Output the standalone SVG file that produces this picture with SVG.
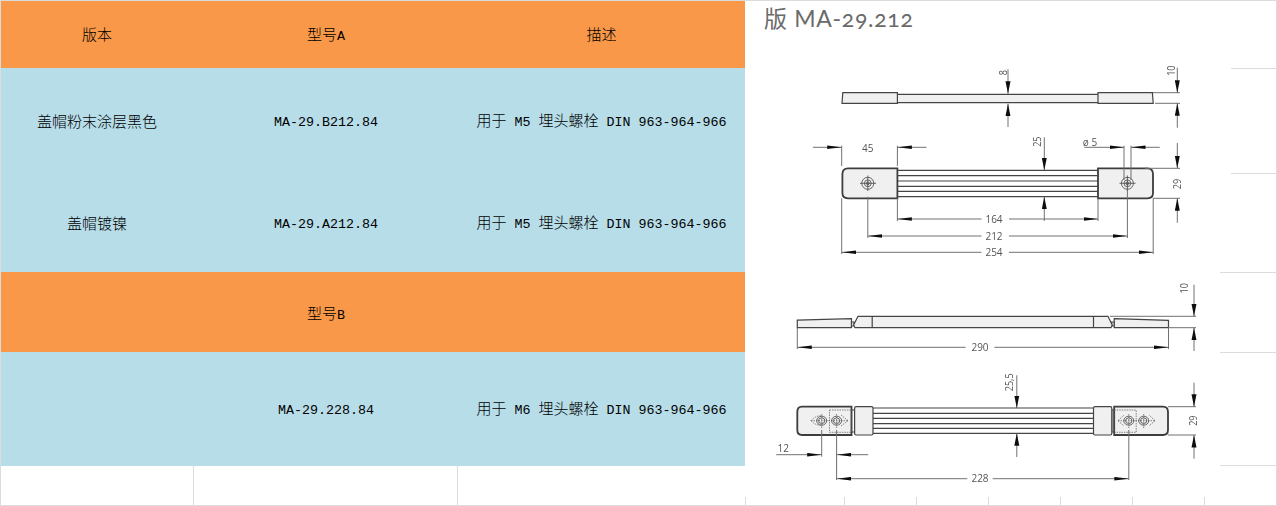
<svg xmlns="http://www.w3.org/2000/svg" width="1277" height="506" viewBox="0 0 1277 506">
<style>
.o{fill:#F99848}.b{fill:#B7DDE8}
.t{font-family:"Liberation Mono","Noto Sans CJK SC",monospace;font-size:13.33px;fill:#000;text-anchor:middle}
.c{font-family:"Noto Sans CJK SC",sans-serif;font-size:15px;font-weight:300}
.g{fill:none;stroke:#dcdcdc;stroke-width:1}
.title{font-family:Lato,"Noto Sans CJK SC",sans-serif;font-size:23px;fill:#6a6a6a;font-feature-settings:"onum";letter-spacing:.7px}
.d{fill:none;stroke:#707070;stroke-width:1}
.k{fill:#f0f0f0;stroke:#444;stroke-width:1.2}
.k2{fill:#f0f0f0;stroke:#3c3c3c;stroke-width:1.8}
.r{fill:none;stroke:#444;stroke-width:1.2}
.h{fill:none;stroke:#444;stroke-width:.8}
.hd{fill:none;stroke:#555;stroke-width:.7;stroke-dasharray:1.5 1}
.n{font-family:"Open Sans",sans-serif;font-size:10px;fill:#555;text-anchor:middle}
.arr{marker-end:url(#ah)}.arv{marker-end:url(#av)}
</style>
<defs>
<marker id="ah" markerUnits="userSpaceOnUse" viewBox="0 0 14.5 4.4" refX="14.5" refY="2.2" markerWidth="14.5" markerHeight="4.4" orient="auto"><path d="M0 .4L14.5 2.2L0 4z" fill="#111"/></marker>
<marker id="av" markerUnits="userSpaceOnUse" viewBox="0 0 12.5 5.6" refX="12.5" refY="2.8" markerWidth="12.5" markerHeight="5.6" orient="auto"><path d="M0 .3L12.5 2.8L0 5.3z" fill="#111"/></marker>
<filter id="soft" x="0" y="0" width="1" height="1"><feGaussianBlur stdDeviation=".35"/></filter>
</defs>
<rect width="1277" height="506" fill="#fff"/>
<g id="grid">
<path class="g" d="M0 .5H1277M.5 0V506M1276.5 0V506M0 505.5H1277M193.5 466V505M457.5 466V505"/>
<path class="g" d="M1231 68.5H1277M1231 173.5H1277M1220 272.5H1277M1220 352.5H1277M1220 465.5H1277"/>
<path class="g" d="M745.5 497V505M844.5 497V505M916.5 497V505M988.5 497V505M1060.5 497V505M1132.5 497V505M1204.5 497V505"/>
</g>
<g id="table">
<rect class="o" x="1" y="1" width="744" height="67"/>
<rect class="b" x="1" y="68" width="744" height="204"/>
<rect class="o" x="1" y="272" width="744" height="80"/>
<rect class="b" x="1" y="352" width="744" height="114"/>
<text class="t" x="97" y="40"><tspan class="c">版本</tspan></text>
<text class="t" x="326" y="40"><tspan class="c">型号</tspan>A</text>
<text class="t" x="601.5" y="40"><tspan class="c">描述</tspan></text>
<text class="t" x="97" y="127"><tspan class="c">盖帽粉末涂层黑色</tspan></text>
<text class="t" x="326" y="126">MA-29.B212.84</text>
<text class="t" x="601.5" y="126"><tspan class="c">用于</tspan> M5 <tspan class="c">埋头螺栓</tspan> DIN 963-964-966</text>
<text class="t" x="97" y="229"><tspan class="c">盖帽镀镍</tspan></text>
<text class="t" x="326" y="228">MA-29.A212.84</text>
<text class="t" x="601.5" y="228"><tspan class="c">用于</tspan> M5 <tspan class="c">埋头螺栓</tspan> DIN 963-964-966</text>
<text class="t" x="326" y="319"><tspan class="c">型号</tspan>B</text>
<text class="t" x="326" y="414">MA-29.228.84</text>
<text class="t" x="601.5" y="414"><tspan class="c">用于</tspan> M6 <tspan class="c">埋头螺栓</tspan> DIN 963-964-966</text>
</g>
<text class="title" x="764" y="27">版 MA-29.212</text>
<g id="drawing-212" filter="url(#soft)">
<path class="k" d="M842.8 92.7H897.4V103.3H842zM897.4 94.3H1098V102.7H897.4zM1098 92.7H1152.4L1153.2 103.3H1098z"/>
<path class="k2" d="M848 168.3H897.4V198.3H848Q842.4 198.3 842.4 193V174Q842.4 168.3 848 168.3z"/>
<path class="k2" d="M1098 168.3H1147.5Q1153 168.3 1153 174V193Q1153 198.3 1147.5 198.3H1098z"/>
<path class="r" d="M897.4 170.3H1098M897.4 175.7H1098M897.4 181H1098M897.4 186.3H1098M897.4 191.3H1098M897.4 196.7H1098"/>
<g class="h"><circle cx="867.8" cy="183.3" r="6"/><circle cx="867.8" cy="183.3" r="3.4"/><circle cx="867.8" cy="183.3" r="1.4"/><circle cx="1127.4" cy="183.3" r="6"/><circle cx="1127.4" cy="183.3" r="3.4"/><circle cx="1127.4" cy="183.3" r="1.4"/><path d="M860 183.3H876M867.8 175.5V191M1119.5 183.3H1135.5M1127.4 175.5V191"/></g>
<path class="d" d="M841.7 145.7V166M897.4 145.7V166M841.7 198.3V254M897.4 198.3V221M1098 198.3V221M1153.2 198.3V254M867.8 196.7V238M1127.4 190V238M1124 145.7V180M1131 145.7V180M1153 92.7H1180M1155 103.3H1180M1145 168.3H1180M1153 198.3H1180"/>
<path class="d arv" d="M1008 69.3V93.7"/><path class="d arv" d="M1008 127V103.7"/>
<path class="d arv" d="M1177.3 67.7V92.7"/><path class="d arv" d="M1177.3 127.7V103.3"/>
<path class="d arv" d="M1177.3 143V168.3"/><path class="d arv" d="M1177.3 222.7V198.3"/>
<path class="d arv" d="M1044.3 137.3V170.3"/><path class="d arv" d="M1044.3 221V196.7"/>
<path class="d arr" d="M812.9 147.3H841.7"/><path class="d arr" d="M926.5 147.3H897.4"/>
<path class="d arr" d="M1084.3 147.3H1124"/><path class="d arr" d="M1159.7 147.3H1131"/>
<path class="d arr" d="M981.5 219H897.4"/><path class="d arr" d="M1009 219H1098"/>
<path class="d arr" d="M981.5 236H867.8"/><path class="d arr" d="M1009 236H1127.4"/>
<path class="d arr" d="M981.5 252.3H841.7"/><path class="d arr" d="M1009 252.3H1153.2"/>
<text class="n" x="867.8" y="151.5">45</text>
<text class="n" x="1090" y="146.3">ø 5</text>
<text class="n" x="994" y="222.6">164</text>
<text class="n" x="994" y="239.6">212</text>
<text class="n" x="994" y="255.9">254</text>
<text class="n" transform="translate(1006.5 72.7) rotate(-90) scale(.9 1)">8</text>
<text class="n" transform="translate(1174.8 70.7) rotate(-90) scale(.9 1)">10</text>
<text class="n" transform="translate(1041 141.7) rotate(-90) scale(.9 1)">25</text>
<text class="n" transform="translate(1180.8 184) rotate(-90) scale(.9 1)">29</text>
</g>
<g id="drawing-228" filter="url(#soft)">
<path class="k" d="M797.3 320.2L851.5 318.7V327.7H797.3zM1114.2 318.7L1168.5 320.3V327.7H1114.2z"/>
<path class="k" d="M851.5 322H854V326H851.5zM1111.7 322H1114.2V326H1111.7z"/>
<path class="k" d="M853.6 325L858 316.3H1108L1112.2 325L1111 327.7H855z"/>
<path class="r" d="M872.2 316.3V327.7M1093.5 316.3V327.7"/>
<path class="k2" d="M802 406.7H851.5V435H802Q797.3 435 797.3 430V412Q797.3 406.7 802 406.7z"/>
<path class="k2" d="M1114.2 406.7H1163Q1168 406.7 1168 412V430Q1168 435 1163 435H1114.2z"/>
<path class="r" d="M851.5 410H854.6V432H851.5zM1111.8 410H1114.2V432H1111.8z"/>
<rect class="k" x="854.6" y="406.7" width="18.4" height="28.3" rx="1.5"/>
<rect class="k" x="1093.5" y="406.7" width="18.3" height="28.3" rx="1.5"/>
<path class="r" d="M873 408H1093.5M873 413.3H1093.5M873 418.4H1093.5M873 423.7H1093.5M873 428.3H1093.5M873 433.3H1093.5"/>
<path class="hd" d="M829.5 410H851.5V432.3H829.5zM1114.2 410H1136.2V432.3H1114.2z"/>
<g class="h"><ellipse cx="821.7" cy="420.7" rx="5" ry="4.5"/><ellipse cx="821.7" cy="420.7" rx="3.2" ry="2.8"/><ellipse cx="836.6" cy="420.7" rx="5" ry="4.5"/><ellipse cx="836.6" cy="420.7" rx="3.2" ry="2.8"/><ellipse cx="1128.8" cy="420.7" rx="5" ry="4.5"/><ellipse cx="1128.8" cy="420.7" rx="3.2" ry="2.8"/><ellipse cx="1143.7" cy="420.7" rx="5" ry="4.5"/><ellipse cx="1143.7" cy="420.7" rx="3.2" ry="2.8"/></g>
<path class="hd" d="M811 420.7H848M821.7 414V428M836.6 414V428M1118 420.7H1155M1128.8 414V428M1143.7 414V428M811 420.7Q816 415 821.7 416M811 420.7Q816 426 821.7 425M848 420.7L841 415M848 420.7L841 426M1155 420.7L1149 415M1155 420.7L1149 426M1118 420.7L1124 415M1118 420.7L1124 426"/>
<path class="d" d="M797.3 327.7V349M1168.5 327.7V349M1110 316.3H1196M1168 327.7H1196M1168 406.7H1196M1168 435H1196M821.7 430V456.7M836.6 430V480M1128.8 430V480"/>
<path class="d arr" d="M965.6 347.3H797.3"/><path class="d arr" d="M994.4 347.3H1168.5"/>
<path class="d arv" d="M1194 284.7V316.3"/><path class="d arv" d="M1194 351V327.7"/>
<path class="d arv" d="M1194 382.7V406.7"/><path class="d arv" d="M1194 458.7V435"/>
<path class="d arv" d="M1016.8 375.3V408"/><path class="d arv" d="M1016.8 457V433.3"/>
<path class="d arr" d="M776.2 454.7H821.7"/><path class="d arr" d="M868.2 454.7H836.6"/>
<path class="d arr" d="M967.3 478.7H836.6"/><path class="d arr" d="M992.7 478.7H1128.8"/>
<text class="n" x="980" y="350.9">290</text>
<text class="n" x="980" y="482.3">228</text>
<text class="n" x="783.3" y="451.5">12</text>
<text class="n" transform="translate(1188 288.3) rotate(-90) scale(.9 1)">10</text>
<text class="n" transform="translate(1012.5 382.3) rotate(-90) scale(.9 1)">25,5</text>
<text class="n" transform="translate(1196.5 420.7) rotate(-90) scale(.9 1)">29</text>
</g>
</svg>
